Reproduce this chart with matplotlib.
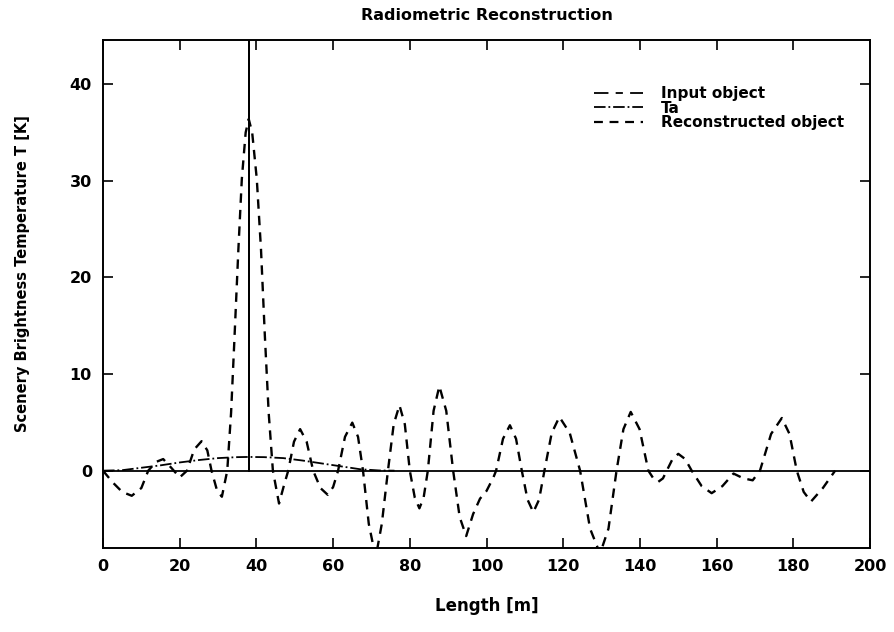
import numpy as np
import matplotlib.pyplot as plt
from matplotlib.lines import Line2D

# input object: zero everywhere, one spike at 38 m
input_x = [0, 38, 38, 38, 200]
input_y = [0, 0, 100, 0, 0]

# antenna temperature Ta (broad bump)
ta_x = [0, 5, 10, 15, 20, 25, 30, 35, 38, 42, 47, 52, 57, 62, 67, 72, 76]
ta_y = [0, 0.05, 0.3, 0.55, 0.85, 1.1, 1.3, 1.4, 1.42, 1.4, 1.3, 1.05, 0.75, 0.45, 0.15, 0.02, 0]

# reconstructed object
rec_x = [0, 2.5, 5, 7.5, 10, 11.8, 13.8, 15.7, 17.8, 20, 21.9, 23.8, 25.7, 27.2, 28.3,
         29.7, 31, 32.4, 33.4, 34.2, 35.3, 36.2, 37.2, 38, 38.9, 40.1, 41.2, 42.2, 43.2,
         44.3, 45.9, 47.2, 48.3, 49.8, 51.4, 53.1, 54.8, 56.7, 58.6, 60, 61.3, 63.1, 65,
         66.5, 67.8, 69.3, 71.1, 72.7, 74.3, 75.8, 77.3, 78.7, 80, 81.3, 82.5, 83.6, 84.7,
         86.2, 87.7, 89.5, 91.3, 93, 94.7, 96.5, 98.3, 100, 101.8, 102.5, 104.3, 106.1,
         107.7, 109.2, 110.7, 112.2, 113.7, 115.1, 117, 119, 121.7, 124.4, 127, 129.6,
         131.8, 133.9, 135.7, 137.6, 139.9, 142.2, 143.5, 144.8, 146, 147, 148.5, 150,
         151.8, 153.5, 156.1, 158.7, 161.5, 164.4, 167, 169.4, 171.3, 174.2, 177, 179,
         180.9, 182.7, 184.6, 187.7, 190.9]
rec_y = [0, -1.2, -2.2, -2.6, -1.8, 0, 0.9, 1.2, 0.3, -0.7, 0, 2.2, 3.05, 2.1, 0,
         -2.0, -2.7, 0, 6, 13, 22.9, 30.2, 35, 36.4, 35, 30.2, 22.9, 14, 6,
         0, -3.4, -1.5, 0, 3.0, 4.3, 3.0, 0, -1.8, -2.5, -1.7, 0, 3.5, 4.97,
         3.5, 0, -5.5, -9, -5.5, 0, 4.8, 6.77, 4.8, 0, -2.8, -3.9, -2.8, 0,
         6.2, 8.75, 6.2, 0, -4.8, -6.77, -4.5, -2.9, -2.1, -0.7, 0, 3.3, 4.7,
         3.3, 0, -3.0, -4.3, -3.0, 0, 3.9, 5.56, 3.9, 0, -6, -8.6,
         -6, 0, 4.3, 6.08, 4.3, 0, -0.8, -1.15, -0.8, 0, 1.2, 1.74,
         1.2, 0, -1.6, -2.33, -1.6, -0.3, -0.8, -1.0, 0, 3.8, 5.45, 3.8,
         0, -2.2, -3.2, -1.8, 0]

plt.rcParams['font.family'] = 'DejaVu Sans'
fig = plt.figure(figsize=(8.94, 6.32), dpi=100)
ax = fig.add_axes([0.1152, 0.133, 0.858, 0.804])

ax.plot(input_x, input_y, 'k-', lw=1.3)
ax.plot(ta_x, ta_y, 'k-.', lw=1.3)
ax.plot(rec_x, rec_y, 'k', lw=1.7, dashes=(4, 3), solid_joinstyle='round',
        dash_joinstyle='round')

ax.set_xlim(0, 200)
ax.set_ylim(-8, 44.6)
ax.set_xticks(np.arange(0, 201, 20))
ax.set_yticks(np.arange(0, 41, 10))
ax.tick_params(direction='in', length=7, width=1.2, top=True, right=True,
               labelsize=11.5, pad=8)
for lab in ax.get_xticklabels() + ax.get_yticklabels():
    lab.set_fontweight('bold')
for s in ax.spines.values():
    s.set_linewidth(1.4)

ax.set_title('Radiometric Reconstruction', fontsize=11.5, fontweight='bold', pad=14)
ax.set_xlabel('Length [m]', fontsize=12, fontweight='bold')
ax.xaxis.set_label_coords(0.5, -0.0965)
ax.set_ylabel('Scenery Brightness Temperature T [K]', fontsize=10.5,
              fontweight='bold')
ax.yaxis.set_label_coords(-0.095, 0.54)

handles = [Line2D([], [], color='k', lw=1.3, dashes=(8, 4, 4, 4)),
           Line2D([], [], color='k', lw=1.3, ls='-.'),
           Line2D([], [], color='k', lw=1.6, dashes=(4, 3))]
ax.legend(handles, ['Input object', 'Ta', 'Reconstructed object'],
          loc='upper right', bbox_to_anchor=(0.984, 0.936), frameon=False,
          handlelength=3.2, handletextpad=1.2, labelspacing=-0.02,
          prop={'weight': 'bold', 'size': 11})

fig.savefig('out.png', dpi=100)
